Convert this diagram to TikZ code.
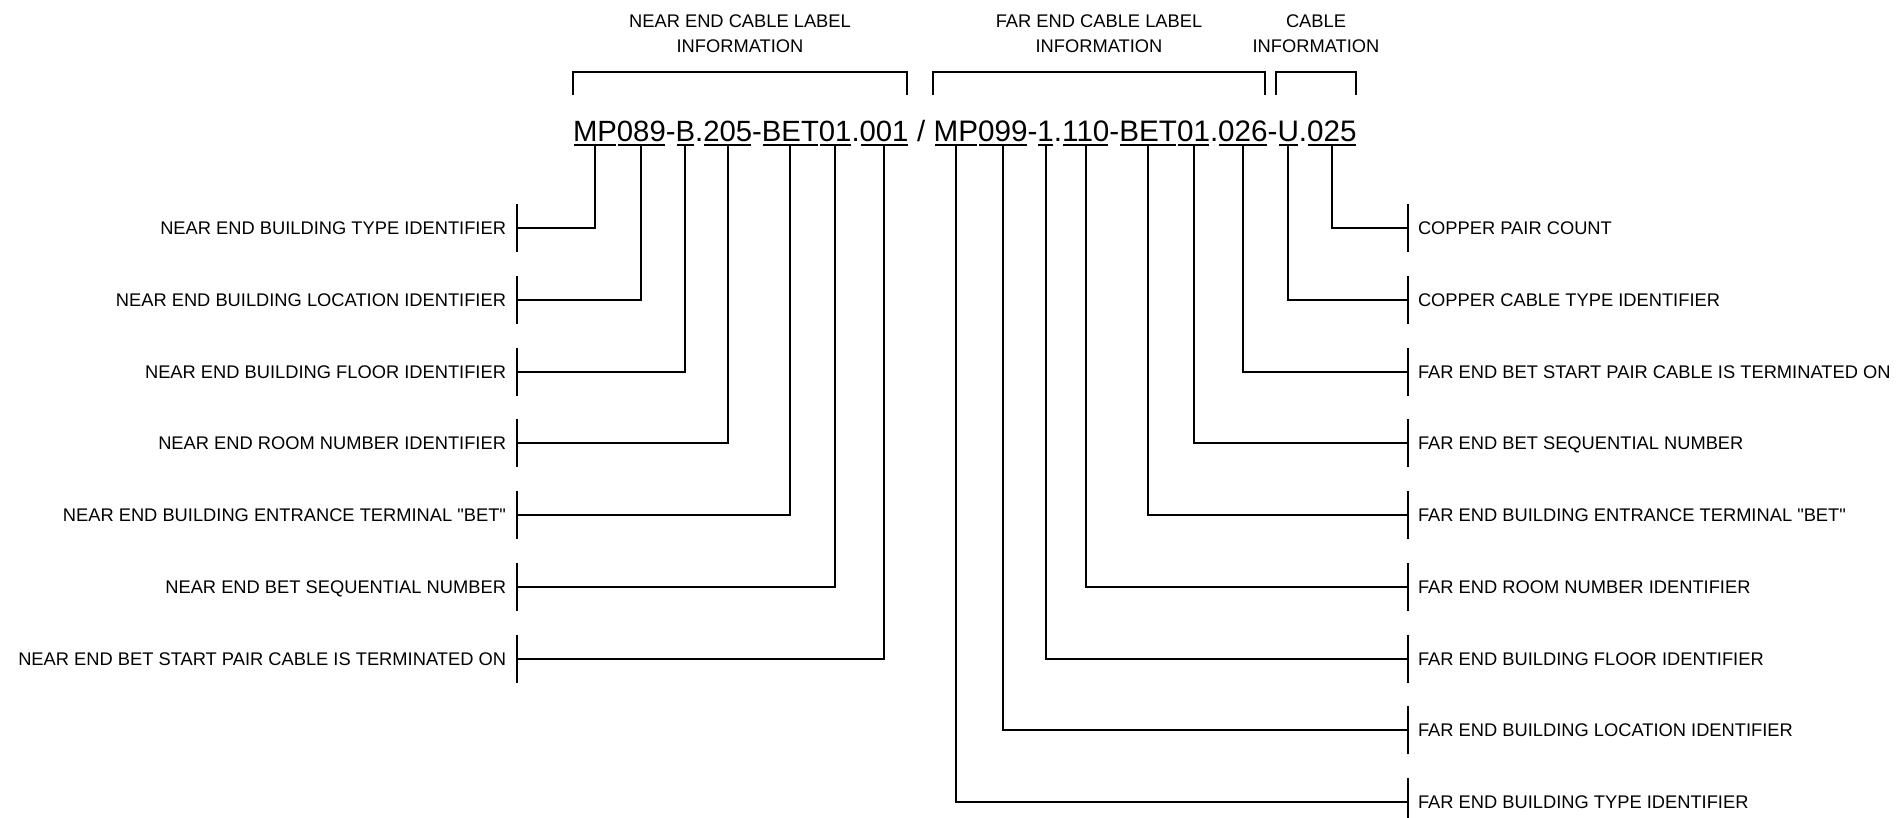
\documentclass[tikz,border=0pt]{standalone}
\usepackage{fontspec}
\setmainfont{Liberation Sans}[Ligatures=TeXOff]
\usetikzlibrary{calc}
\begin{document}
\begin{tikzpicture}[x=1pt,y=-1pt,
  lbl/.style={font=\fontsize{18.3}{24.5}\selectfont, inner sep=0pt, outer sep=0pt},
  code/.style={font=\fontsize{29.3}{32}\selectfont, inner sep=0pt, outer sep=0pt, anchor=base west},
  codefar/.style={code, font=\fontsize{29.65}{32}\selectfont},
  bar/.style={line width=2.4pt},
  lead/.style={line width=2pt},
  uline/.style={line width=2pt},
  bracket/.style={line width=2.4pt}]
\useasboundingbox (0,0) rectangle (1898,818);

% headings
\node[lbl, align=center, anchor=north] (hnear) at (740,15) {NEAR END CABLE LABEL\\INFORMATION};
\node[lbl, align=center, anchor=north] (hfar) at (1099,15) {FAR END CABLE LABEL\\INFORMATION};
\node[lbl, align=center, anchor=north] (hcab) at (1316,15) {CABLE\\INFORMATION};

% brackets
\draw[bracket] (573,95) -- (573,72) -- (907,72) -- (907,95);
\draw[bracket] (933,95) -- (933,72) -- (1265,72) -- (1265,95);
\draw[bracket] (1276,95) -- (1276,72) -- (1356,72) -- (1356,95);

% main code
\node[code] (n1) at (573,142) {MP};
\node[code] (n2) at (n1.base east) {089};
\node[code] (s1) at (n2.base east) {-};
\node[code] (n3) at (s1.base east) {B};
\node[code] (s2) at (n3.base east) {.};
\node[code] (n4) at (s2.base east) {205};
\node[code] (s3) at (n4.base east) {-};
\node[code] (n5) at (s3.base east) {BET};
\node[code] (n6) at (n5.base east) {01};
\node[code] (s4) at (n6.base east) {.};
\node[code] (n7) at (s4.base east) {001};
\node[code] (s5) at (n7.base east) {\kern0.29em/\kern0.29em};
\node[codefar] (f1) at (s5.base east) {MP};
\node[codefar] (f2) at (f1.base east) {099};
\node[codefar] (s6) at (f2.base east) {-};
\node[codefar] (f3) at (s6.base east) {1};
\node[codefar] (s7) at (f3.base east) {.};
\node[codefar] (f4) at (s7.base east) {110};
\node[codefar] (s8) at (f4.base east) {-};
\node[codefar] (f5) at (s8.base east) {BET};
\node[codefar] (f6) at (f5.base east) {01};
\node[codefar] (s9) at (f6.base east) {.};
\node[codefar] (f7) at (s9.base east) {026};
\node[codefar] (s10) at (f7.base east) {-};
\node[codefar] (f8) at (s10.base east) {U};
\node[codefar] (s11) at (f8.base east) {.};
\node[codefar] (f9) at (s11.base east) {025};

\foreach \n in {n1,n2,n3,n4,n5,n6,n7,f1,f2,f3,f4,f5,f6,f7,f8,f9}
  \draw[uline] ($(\n.base west)+(1,3.5)$) -- ($(\n.base east)+(-1,3.5)$);

% bar points
\coordinate (L1) at (517,228);
\coordinate (L2) at (517,300);
\coordinate (L3) at (517,371.5);
\coordinate (L4) at (517,443);
\coordinate (L5) at (517,515);
\coordinate (L6) at (517,587);
\coordinate (L7) at (517,658.5);
\coordinate (R1) at (1408,228);
\coordinate (R2) at (1408,300);
\coordinate (R3) at (1408,371.5);
\coordinate (R4) at (1408,443);
\coordinate (R5) at (1408,515);
\coordinate (R6) at (1408,587);
\coordinate (R7) at (1408,658.5);
\coordinate (R8) at (1408,730);
\coordinate (R9) at (1408,802);

\foreach \p in {L1,L2,L3,L4,L5,L6,L7,R1,R2,R3,R4,R5,R6,R7,R8,R9}
  \draw[bar] ($(\p)+(0,-24)$) -- ($(\p)+(0,24)$);

% leads
\foreach \n/\p in {n1/L1,n2/L2,n3/L3,n4/L4,n5/L5,n6/L6,n7/L7,
                   f9/R1,f8/R2,f7/R3,f6/R4,f5/R5,f4/R6,f3/R7,f2/R8,f1/R9}
  \draw[lead] ($(\n.base)+(0,3.5)$) |- (\p);

% left labels
\node[lbl, anchor=base east] (tl1) at ($(L1)+(-11,6.5)$) {NEAR END BUILDING TYPE IDENTIFIER};
\node[lbl, anchor=base east] (tl2) at ($(L2)+(-11,6.5)$) {NEAR END BUILDING LOCATION IDENTIFIER};
\node[lbl, anchor=base east] (tl3) at ($(L3)+(-11,6.5)$) {NEAR END BUILDING FLOOR IDENTIFIER};
\node[lbl, anchor=base east] (tl4) at ($(L4)+(-11,6.5)$) {NEAR END ROOM NUMBER IDENTIFIER};
\node[lbl, anchor=base east] (tl5) at ($(L5)+(-11,6.5)$) {NEAR END BUILDING ENTRANCE TERMINAL "BET"};
\node[lbl, anchor=base east] (tl6) at ($(L6)+(-11,6.5)$) {NEAR END BET SEQUENTIAL NUMBER};
\node[lbl, anchor=base east] (tl7) at ($(L7)+(-11,6.5)$) {NEAR END BET START PAIR CABLE IS TERMINATED ON};

% right labels
\node[lbl, anchor=base west] (tr1) at ($(R1)+(10,6.5)$) {COPPER PAIR COUNT};
\node[lbl, anchor=base west] (tr2) at ($(R2)+(10,6.5)$) {COPPER CABLE TYPE IDENTIFIER};
\node[lbl, anchor=base west] (tr3) at ($(R3)+(10,6.5)$) {FAR END BET START PAIR CABLE IS TERMINATED ON};
\node[lbl, anchor=base west] (tr4) at ($(R4)+(10,6.5)$) {FAR END BET SEQUENTIAL NUMBER};
\node[lbl, anchor=base west] (tr5) at ($(R5)+(10,6.5)$) {FAR END BUILDING ENTRANCE TERMINAL "BET"};
\node[lbl, anchor=base west] (tr6) at ($(R6)+(10,6.5)$) {FAR END ROOM NUMBER IDENTIFIER};
\node[lbl, anchor=base west] (tr7) at ($(R7)+(10,6.5)$) {FAR END BUILDING FLOOR IDENTIFIER};
\node[lbl, anchor=base west] (tr8) at ($(R8)+(10,6.5)$) {FAR END BUILDING LOCATION IDENTIFIER};
\node[lbl, anchor=base west] (tr9) at ($(R9)+(10,6.5)$) {FAR END BUILDING TYPE IDENTIFIER};
\end{tikzpicture}
\end{document}
